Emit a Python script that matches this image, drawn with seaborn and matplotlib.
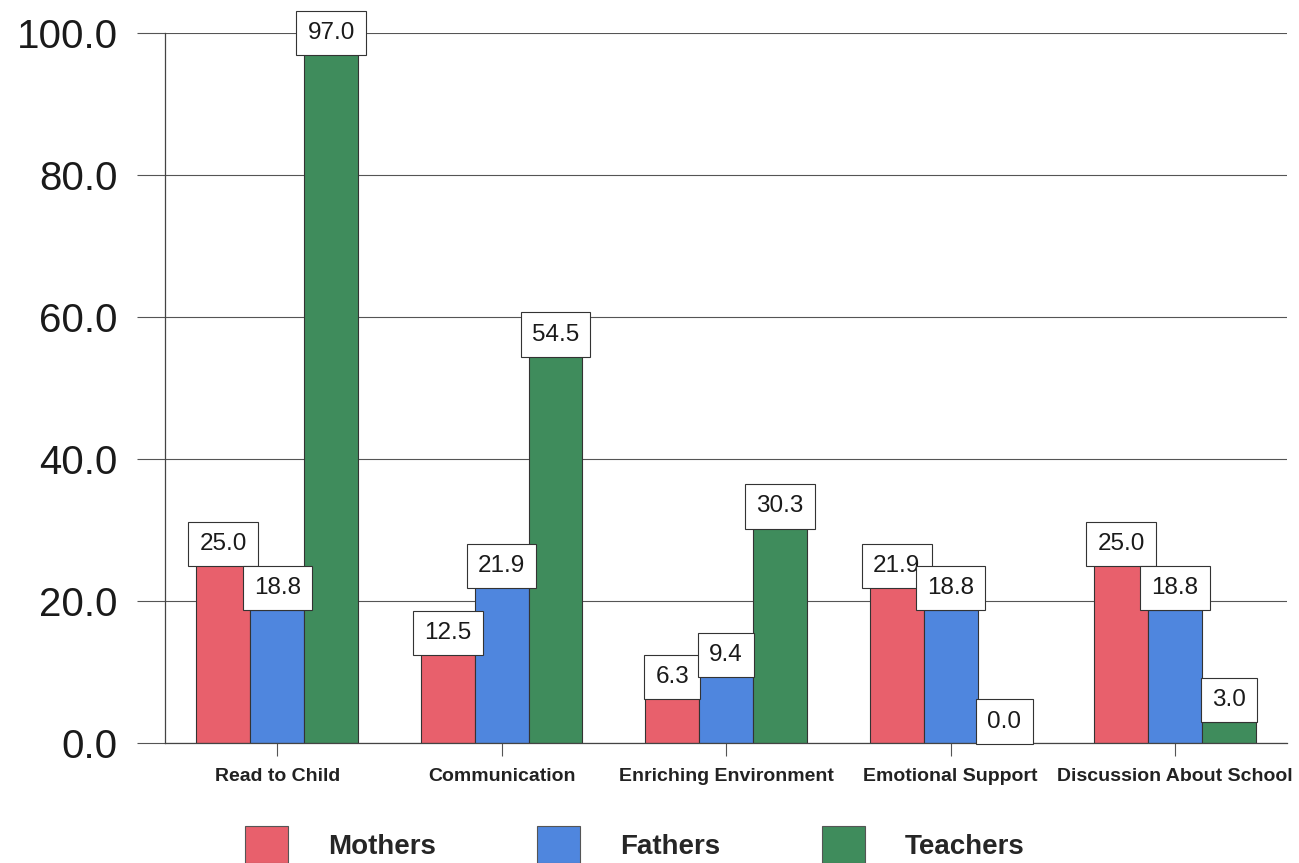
import matplotlib
matplotlib.use("Agg")
import matplotlib.pyplot as plt
import seaborn as sns
import pandas as pd
from matplotlib.patches import Patch

categories = ["Read to Child", "Communication", "Enriching Environment",
              "Emotional Support", "Discussion About School"]
groups = ["Mothers", "Fathers", "Teachers"]
mothers = [25.0, 12.5, 6.3, 21.9, 25.0]
fathers = [18.8, 21.9, 9.4, 18.8, 18.8]
teachers = [97.0, 54.5, 30.3, 0.0, 3.0]
yticks = [0, 20, 40, 60, 80, 100]
colors = ["#E8606C", "#4F86DE", "#3F8C5C"]

rows = []
for g, vals in zip(groups, [mothers, fathers, teachers]):
    for c, v in zip(categories, vals):
        rows.append({"Activity": c, "Group": g, "Percent": v})
df = pd.DataFrame(rows)

sns.set_theme(style="white")
plt.rcParams["font.family"] = ["Liberation Sans", "DejaVu Sans"]

fig = plt.figure(figsize=(12.99, 8.63), dpi=100)
ax = fig.add_axes([0.127, 0.139, 0.864, 0.823])

sns.barplot(data=df, x="Activity", y="Percent", hue="Group",
            order=categories, hue_order=groups, palette=colors,
            width=0.72, gap=0, edgecolor="#333333", linewidth=0.8,
            saturation=1, ax=ax, legend=False, zorder=2)

ax.set_xlim(-0.5, 4.5)
ax.set_ylim(0, 100)
ax.set_yticks(yticks)
ax.set_yticklabels([f"{t:.1f}" for t in yticks], fontsize=29)
ax.set_xticks(range(len(categories)))
ax.set_xticklabels(categories, fontsize=14, fontweight="bold", color="#222222")
ax.set_xlabel("")
ax.set_ylabel("")

ax.yaxis.grid(True, color="#555555", linewidth=0.8, zorder=0)
ax.set_axisbelow(True)
for side in ["top", "right"]:
    ax.spines[side].set_visible(False)
for side in ["left", "bottom"]:
    ax.spines[side].set_color("#444444")
    ax.spines[side].set_linewidth(0.9)
ax.tick_params(axis="y", length=20, width=0.8, color="#555555", pad=14,
               labelcolor="#1a1a1a", left=True)
ax.tick_params(axis="x", length=9, width=0.8, color="#555555", pad=9,
               bottom=True)

# value boxes on top of each bar
for bars in ax.containers:
    for rect in bars:
        h = rect.get_height()
        ax.annotate(f"{h:.1f}", (rect.get_x() + rect.get_width() / 2, h),
                    xytext=(0, 7.5), textcoords="offset points",
                    ha="center", va="bottom", fontsize=17.5, color="#1a1a1a",
                    bbox=dict(boxstyle="square,pad=0.46", fc="white",
                              ec="#333333", lw=0.8),
                    zorder=5, annotation_clip=False)

handles = [Patch(facecolor=c, edgecolor="#555555", linewidth=0.8) for c in colors]
fig.legend(handles, groups, loc="lower left", bbox_to_anchor=(0.1886, 0.0),
           ncol=3, frameon=False, borderpad=0, borderaxespad=0,
           prop={"weight": "bold", "size": 20},
           handlelength=1.55, handleheight=1.65, handletextpad=1.44,
           columnspacing=3.65)

fig.savefig("out.png", dpi=100)
